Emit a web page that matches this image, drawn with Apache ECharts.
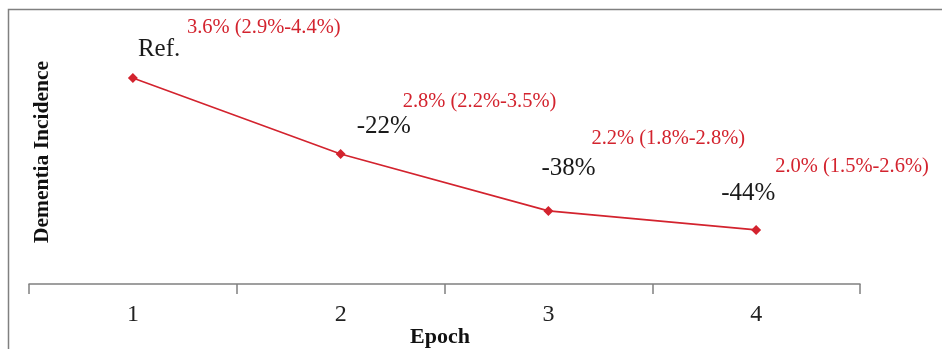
<!DOCTYPE html>
<html>
<head>
<meta charset="utf-8">
<script src="https://cdn.jsdelivr.net/npm/echarts@6/dist/echarts.min.js"></script>
<style>html,body{margin:0;padding:0;background:#fff}#c{width:942px;height:349px}</style>
</head>
<body>
<div id="c"></div>
<script>
const categories = ['1', '2', '3', '4'];
const incidence = [3.6, 2.8, 2.2, 2.0];
const ciLabels = ['3.6% (2.9%-4.4%)', '2.8% (2.2%-3.5%)', '2.2% (1.8%-2.8%)', '2.0% (1.5%-2.6%)'];
const changeLabels = ['Ref.', '-22%', '-38%', '-44%'];
const xAxisTitle = 'Epoch';
const yAxisTitle = 'Dementia Incidence';

// layout offsets for the annotations (pixels, relative to each point)
const ciOffsets = [[54, -50], [62, -52], [43, -72], [19, -63]];
const changeOffsets = [[5, -29], [16, -27], [-7, -42], [-35, -36]];

const FONT = '"Liberation Serif", "DejaVu Serif", serif';
const RED = '#d3232e';

const chart = echarts.init(document.getElementById('c'), null, {renderer: 'canvas'});
chart.setOption({
  animation: false,
  backgroundColor: '#fff',
  grid: {left: 29, right: 82, top: 40, bottom: 65, containLabel: false, outerBoundsMode: 'none'},
  xAxis: {
    type: 'category',
    data: categories,
    boundaryGap: true,
    axisLine: {lineStyle: {color: '#808080', width: 1.5}},
    axisTick: {show: true, length: 10, lineStyle: {color: '#808080', width: 1.5}},
    axisLabel: {fontFamily: FONT, fontSize: 24, color: '#222', margin: 19}
  },
  yAxis: {
    type: 'value',
    min: 1.43,
    max: 4.0,
    show: false
  },
  series: [
    {
      type: 'line',
      data: incidence.map((v, i) => ({
        value: v,
        label: {show: true, position: 'inside', formatter: ciLabels[i], offset: ciOffsets[i]}
      })),
      symbol: 'diamond',
      symbolSize: 10,
      lineStyle: {color: RED, width: 1.6},
      itemStyle: {color: RED},
      label: {fontFamily: FONT, fontSize: 20.5, color: RED, align: 'left', verticalAlign: 'middle'},
      z: 3
    },
    {
      type: 'scatter',
      data: incidence.map((v, i) => ({
        value: v,
        label: {show: true, position: 'inside', formatter: changeLabels[i], offset: changeOffsets[i]}
      })),
      symbol: 'circle',
      symbolSize: 1,
      itemStyle: {color: 'rgba(0,0,0,0)', opacity: 1},
      label: {fontFamily: FONT, fontSize: 25, color: '#1a1a1a', opacity: 1, align: 'left', verticalAlign: 'middle'},
      silent: true,
      z: 2
    }
  ],
  graphic: [
    {
      type: 'rect',
      shape: {x: 8.5, y: 9.5, width: 960, height: 400},
      style: {fill: 'none', stroke: '#808080', lineWidth: 1.5},
      silent: true
    },
    {
      type: 'text',
      x: 42,
      y: 152,
      rotation: Math.PI / 2,
      style: {
        text: yAxisTitle,
        font: 'bold 21.5px ' + FONT,
        fill: '#111',
        align: 'center',
        verticalAlign: 'middle'
      }
    },
    {
      type: 'text',
      x: 440,
      y: 337,
      style: {
        text: xAxisTitle,
        font: 'bold 22px ' + FONT,
        fill: '#111',
        align: 'center',
        verticalAlign: 'middle'
      }
    }
  ]
});
</script>
</body>
</html>
